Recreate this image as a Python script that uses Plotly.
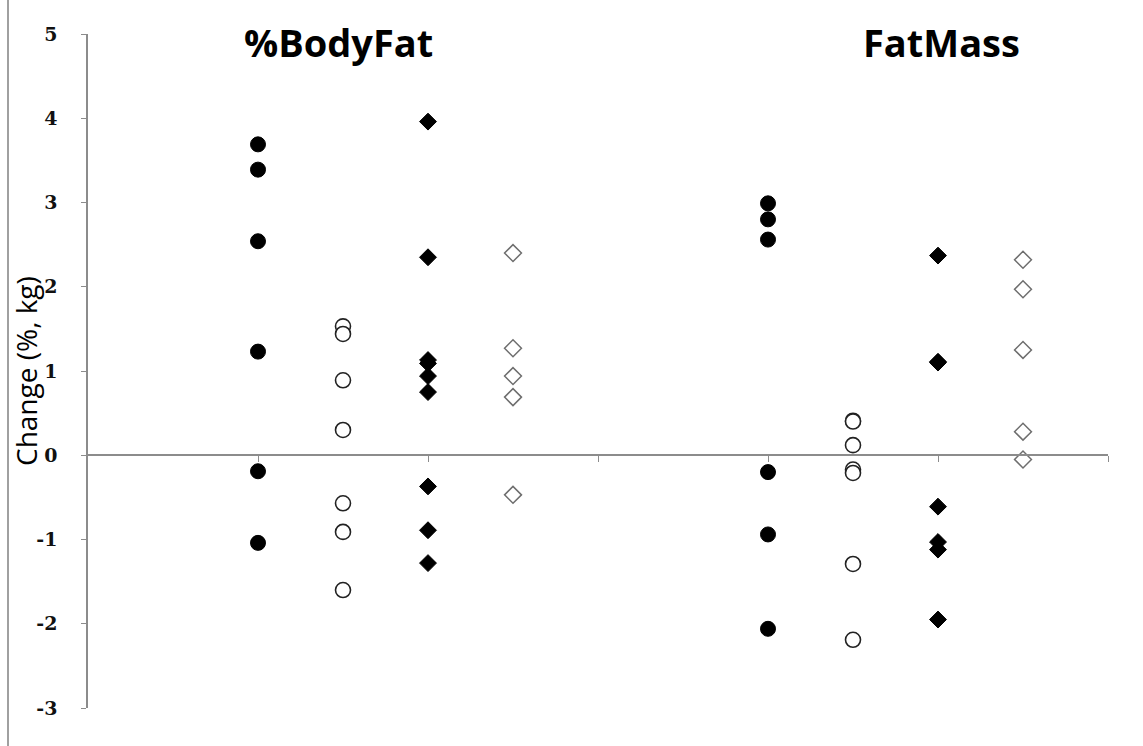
import plotly.graph_objects as go

# x positions of each group column
x_bf_pre = 2
x_bf_post = 3
x_bf_d1 = 4
x_bf_d2 = 5
x_fm_pre = 8
x_fm_post = 9
x_fm_d1 = 10
x_fm_d2 = 11

# %BodyFat changes
bf_filled_circle = [3.69, 3.39, 2.54, 1.23, -0.19, -1.04]
bf_open_circle = [1.53, 1.44, 0.89, 0.30, -0.57, -0.91, -1.60]
bf_filled_diamond = [3.96, 2.35, 1.13, 1.09, 0.94, 0.75, -0.37, -0.89, -1.28]
bf_open_diamond = [2.40, 1.27, 0.94, 0.69, -0.47]

# FatMass changes
fm_filled_circle = [2.99, 2.80, 2.56, -0.20, -0.94, -2.06]
fm_open_circle = [0.41, 0.40, 0.12, -0.17, -0.21, -1.29, -2.19]
fm_filled_diamond = [2.37, 1.11, 1.10, -0.61, -1.03, -1.12, -1.95]
fm_open_diamond = [2.32, 1.97, 1.25, 0.28, -0.05]

y_ticks = [-3, -2, -1, 0, 1, 2, 3, 4, 5]
y_tick_text = ["-3", "-2", "-1", "0", "1", "2", "3", "4", "5"]
x_ticks = [2, 4, 6, 8, 10, 12]

fig = go.Figure()

def add(xpos, vals, symbol, color, line_color, size, lw):
    fig.add_trace(go.Scatter(
        x=[xpos] * len(vals), y=vals, mode="markers",
        marker=dict(symbol=symbol, size=size, color=color,
                    line=dict(color=line_color, width=lw)),
        showlegend=False, hoverinfo="y"))

for xpos, vals in [(x_bf_pre, bf_filled_circle), (x_fm_pre, fm_filled_circle)]:
    add(xpos, vals, "circle", "black", "black", 15, 1)
for xpos, vals in [(x_bf_post, bf_open_circle), (x_fm_post, fm_open_circle)]:
    add(xpos, vals, "circle", "white", "#222222", 15, 1.6)
for xpos, vals in [(x_bf_d1, bf_filled_diamond), (x_fm_d1, fm_filled_diamond)]:
    add(xpos, vals, "diamond", "black", "black", 13, 1)
for xpos, vals in [(x_bf_d2, bf_open_diamond), (x_fm_d2, fm_open_diamond)]:
    add(xpos, vals, "diamond", "white", "#6e6e6e", 13, 1.5)

axis_color = "#8c8c8c"
plot_w = 1143 - 88 - 35

fig.update_layout(
    width=1143, height=746, autosize=False,
    margin=dict(l=88, r=35, t=34, b=38),
    paper_bgcolor="white", plot_bgcolor="white",
    font=dict(family="Open Sans, sans-serif", color="black"),
    xaxis=dict(
        range=[0, 12], tickvals=x_ticks, showticklabels=False,
        showgrid=False, zeroline=False, showline=True,
        linecolor=axis_color, linewidth=1.5,
        ticks="outside", ticklen=6, tickcolor=axis_color, tickwidth=1,
        anchor="free", position=3 / 8,
    ),
    yaxis=dict(
        range=[-3, 5], tickvals=y_ticks, ticktext=y_tick_text,
        showgrid=False, zeroline=False,
        showline=True, linecolor=axis_color, linewidth=1.5,
        ticks="outside", ticklen=5, tickcolor=axis_color, tickwidth=1,
        tickfont=dict(family="DejaVu Serif, serif", size=19, color="#111111",
                      weight="bold"),
        ticklabelstandoff=20,
    ),
    annotations=[
        dict(text="Change (%, kg)", x=-62 / plot_w, y=0.5,
             xref="paper", yref="paper", showarrow=False, textangle=-90,
             xanchor="center", yanchor="middle",
             font=dict(family="Open Sans, sans-serif", size=28, color="black")),
        dict(text="<b>%BodyFat</b>", x=2.95, y=5,
             xref="x", yref="y", showarrow=False, yshift=-8,
             font=dict(family="Open Sans, sans-serif", size=38, color="black")),
        dict(text="<b>FatMass</b>", x=10.04, y=5,
             xref="x", yref="y", showarrow=False, yshift=-8,
             font=dict(family="Open Sans, sans-serif", size=38, color="black")),
    ],
    shapes=[
        dict(type="line", xref="paper", yref="paper",
             x0=-80 / plot_w, x1=-80 / plot_w, y0=-0.06, y1=1.06,
             line=dict(color="#a0a0a0", width=2)),
    ],
)

fig.write_html("out.html")
